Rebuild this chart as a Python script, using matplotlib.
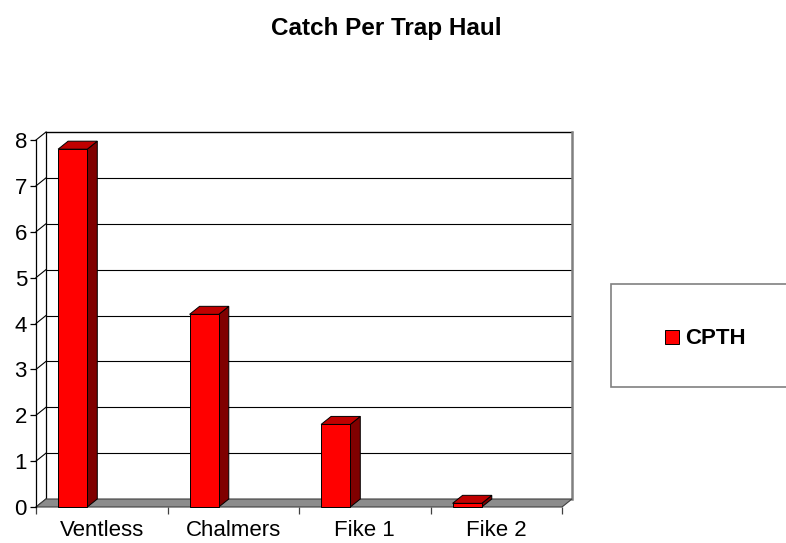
import matplotlib.pyplot as plt
from matplotlib.patches import Polygon, Rectangle

plt.rcParams['font.family'] = ['Liberation Sans', 'DejaVu Sans']

categories = ['Ventless', 'Chalmers', 'Fike 1', 'Fike 2']
cpth = [7.8, 4.2, 1.8, 0.08]
series_name = 'CPTH'
yticks = [0, 1, 2, 3, 4, 5, 6, 7, 8]

W, H = 786, 543
fig = plt.figure(figsize=(W / 100, H / 100), dpi=100)

# axes = front face of the 3d box, in pixels
left, right, bottom, top = 36, 562, 507, 140
ax = fig.add_axes([left / W, 1 - bottom / H, (right - left) / W, (bottom - top) / H])
ax.set_xlim(0, len(categories))
ax.set_ylim(0, 8)

# depth offset (pixels -> data units)
px_x = (right - left) / len(categories)
px_y = (bottom - top) / 8
ddx = 10 / px_x
ddy = 8 / px_y

for s in ['top', 'right', 'bottom']:
    ax.spines[s].set_visible(False)
ax.spines['left'].set_linewidth(0.9)

# back wall gridlines and frame
n = len(categories)
for v in yticks[1:-1]:
    ax.plot([ddx, n + ddx], [v + ddy, v + ddy], color='black', lw=0.8, clip_on=False, zorder=1)
ax.plot([ddx, n + ddx], [8 + ddy, 8 + ddy], color='black', lw=1.0, clip_on=False, zorder=1)
ax.plot([ddx, ddx], [ddy, 8 + ddy], color='black', lw=0.9, clip_on=False, zorder=1)
ax.plot([n + ddx, n + ddx], [ddy, 8 + ddy], color='#808080', lw=1.8, clip_on=False, zorder=1)

# side wall diagonals
for v in yticks:
    ax.plot([0, ddx], [v, v + ddy], color='black', lw=0.8, clip_on=False, zorder=1)

# floor
floor = Polygon([(0, 0), (n, 0), (n + ddx, ddy), (ddx, ddy)], closed=True,
                facecolor='#8c8c8c', edgecolor='#404040', lw=0.8, clip_on=False, zorder=2)
ax.add_patch(floor)

# bars
bw = 0.222
off = 0.168
for i, v in enumerate(cpth):
    x0 = i + off
    x1 = x0 + bw
    ax.add_patch(Polygon([(x1, 0), (x1 + ddx, ddy), (x1 + ddx, v + ddy), (x1, v)], closed=True,
                         facecolor='#800000', edgecolor='black', lw=0.7, clip_on=False, zorder=3))
    ax.add_patch(Polygon([(x0, v), (x1, v), (x1 + ddx, v + ddy), (x0 + ddx, v + ddy)], closed=True,
                         facecolor='#c00000', edgecolor='black', lw=0.7, clip_on=False, zorder=3))
    ax.add_patch(Rectangle((x0, 0), bw, v, facecolor='#ff0000', edgecolor='black',
                           lw=0.7, clip_on=False, zorder=4))

# ticks
ax.set_yticks(yticks)
ax.tick_params(axis='y', length=4.5, width=0.9, labelsize=16, pad=2)
ax.set_xticks(range(n + 1))
ax.set_xticklabels([''] * (n + 1))
ax.set_xticks([i + 0.5 for i in range(n)], minor=True)
ax.set_xticklabels(categories, minor=True)
ax.tick_params(axis='x', which='major', length=5, width=0.9, color='#404040')
ax.tick_params(axis='x', which='minor', length=0, labelsize=16, pad=9)
ax.patch.set_visible(False)

fig.text(386 / W, 1 - 29 / H, 'Catch Per Trap Haul', ha='center', va='center',
         fontsize=17.5, fontweight='bold')

# legend box
fig.patches.append(Rectangle((611 / W, 1 - 387 / H), 200 / W, 103 / H, transform=fig.transFigure,
                             facecolor='white', edgecolor='#808080', lw=1.2))
fig.patches.append(Rectangle((665 / W, 1 - 344 / H), 14 / W, 14 / H, transform=fig.transFigure,
                             facecolor='#ff0000', edgecolor='black', lw=0.7))
fig.text(685 / W, 1 - 338 / H, series_name, ha='left', va='center', fontsize=16, fontweight='bold')

fig.savefig('out.png', dpi=100)
